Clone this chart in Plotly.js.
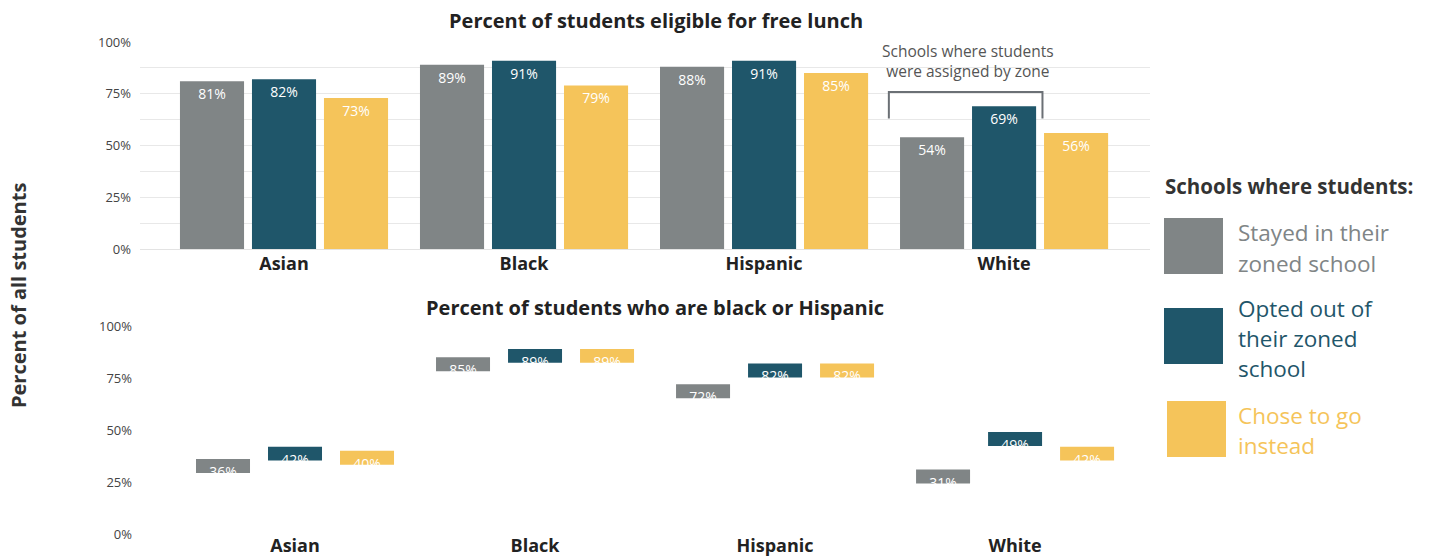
<!DOCTYPE html>
<html>
<head>
<meta charset="utf-8">
<script src="https://cdn.plot.ly/plotly-3.0.1.min.js"></script>
<style>html,body{margin:0;padding:0;background:#fff;}#chart{width:1435px;height:557px;}</style>
</head>
<body>
<div id="chart"></div>
<script>
// ---- data ----
const categories = ['Asian', 'Black', 'Hispanic', 'White'];
const seriesNames = ['Stayed in their zoned school', 'Opted out of their zoned school', 'Chose to go instead'];
const legendLines = [['Stayed in their', 'zoned school'], ['Opted out of', 'their zoned', 'school'], ['Chose to go', 'instead']];
const lunchStayed = [81, 89, 88, 54];
const lunchOpted = [82, 91, 91, 69];
const lunchChose = [73, 79, 85, 56];
const minorityStayed = [36, 85, 72, 31];
const minorityOpted = [42, 89, 82, 49];
const minorityChose = [40, 89, 82, 42];
const yTickVals = [0, 25, 50, 75, 100];
const yTickText = ['0%', '25%', '50%', '75%', '100%'];
const topTitle = 'Percent of students eligible for free lunch';
const bottomTitle = 'Percent of students who are black or Hispanic';
const yAxisTitle = 'Percent of all students';
const zoneNote = 'Schools where students<br>were assigned by zone';
const legendTitle = 'Schools where students:';

// ---- style ----
const colors = ['#808586', '#1f566a', '#f5c45a'];
const FONT = '"Open Sans", Lato, sans-serif';
const W = 1435, H = 557;
const px = x => x / W;
const py = y => 1 - y / H;
const offsetsTop = [-0.4335, -0.1335, 0.1665];
const widthTop = 0.267;
const offsetsBot = [-0.4125, -0.1125, 0.1875];
const widthBot = 0.225;
const boxH = 6.7; // visible height of the lower-panel boxes, in axis units

const lunch = [lunchStayed, lunchOpted, lunchChose];
const minority = [minorityStayed, minorityOpted, minorityChose];

const traces = [];
lunch.forEach((vals, i) => {
  traces.push({
    type: 'bar', name: seriesNames[i], x: categories, y: vals,
    xaxis: 'x', yaxis: 'y',
    width: widthTop, offset: offsetsTop[i],
    marker: {color: colors[i]},
    text: vals.map(v => v + '%'), textposition: 'inside', insidetextanchor: 'end',
    constraintext: 'none',
    textfont: {color: '#ffffff', size: 14, family: FONT},
    showlegend: false, hoverinfo: 'x+y'
  });
});
minority.forEach((vals, i) => {
  traces.push({
    type: 'bar', name: seriesNames[i], x: categories,
    y: vals.map(() => boxH), base: vals.map(v => v - boxH),
    xaxis: 'x2', yaxis: 'y2',
    width: widthBot, offset: offsetsBot[i],
    marker: {color: colors[i]},
    text: vals.map(v => v + '%'), textposition: 'inside', insidetextanchor: 'end',
    constraintext: 'none',
    textfont: {color: '#ffffff', size: 14, family: FONT},
    showlegend: false, hoverinfo: 'x+text'
  });
});

const tickFont = {family: FONT, size: 13, color: '#444'};
const catFont = {family: FONT, size: 18, color: '#222', weight: 'bold'};

function ann(text, x, y, font, extra) {
  return Object.assign({text: text, x: px(x), y: py(y), xref: 'paper', yref: 'paper',
    showarrow: false, xanchor: 'center', yanchor: 'middle', font: font}, extra || {});
}

const annotations = [
  ann(topTitle, 656, 20, {family: FONT, size: 20, color: '#222', weight: 'bold'}),
  ann(bottomTitle, 655, 307, {family: FONT, size: 20, color: '#222', weight: 'bold'}),
  ann(yAxisTitle, 18, 296, {family: FONT, size: 20, color: '#333', weight: 'bold'}, {textangle: -90}),
  ann(zoneNote, 968, 61, {family: FONT, size: 15.5, color: '#555'}),
  ann(legendTitle, 1163, 186, {family: FONT, size: 20.5, color: '#333', weight: 'bold'}, {xanchor: 'left'})
];
const legendBoxes = [[1164, 218], [1164, 308], [1167, 401]];
const legendFirstLineY = [233, 308, 415];
const shapes = [];
legendLines.forEach((lines, i) => {
  const [bx, by] = legendBoxes[i];
  shapes.push({type: 'rect', xref: 'paper', yref: 'paper',
    x0: px(bx), x1: px(bx + 59), y0: py(by), y1: py(by + 56),
    fillcolor: colors[i], line: {width: 0}});
  lines.forEach((line, j) => {
    annotations.push(ann(line, 1236, legendFirstLineY[i] + j * 30.3,
      {family: FONT, size: 22.5, color: colors[i]}, {xanchor: 'left'}));
  });
});
// bracket over the White group
shapes.push({type: 'path', xref: 'x', yref: 'y',
  path: 'M 2.52 63 L 2.52 75.8 L 3.16 75.8 L 3.16 63',
  line: {color: '#6b7075', width: 2}});

const layout = {
  width: W, height: H,
  margin: {l: 0, r: 0, t: 0, b: 0},
  paper_bgcolor: '#fff', plot_bgcolor: '#fff',
  barmode: 'overlay',
  font: {family: FONT},
  xaxis: {domain: [px(140), px(1150)], range: [-0.6, 3.608], type: 'category',
    showgrid: false, zeroline: false, showline: false, ticks: '',
    tickfont: catFont, anchor: 'y', ticklabelstandoff: 2},
  yaxis: {domain: [py(249), py(42)], range: [0, 100], tickvals: yTickVals, ticktext: yTickText,
    showgrid: true, gridcolor: '#e8e8e8', gridwidth: 1,
    minor: {dtick: 12.5, showgrid: true, gridcolor: '#e8e8e8', gridwidth: 1},
    zeroline: true, zerolinecolor: '#e3e3e3', zerolinewidth: 1,
    showline: false, ticks: '', tickfont: tickFont, anchor: 'x', ticklabelstandoff: 8},
  xaxis2: {domain: [px(151), px(1161)], range: [-0.6, 3.608], type: 'category',
    showgrid: false, zeroline: false, showline: false, ticks: '',
    tickfont: catFont, anchor: 'y2', ticklabelstandoff: -1},
  yaxis2: {domain: [py(534), py(326)], range: [0, 100], tickvals: yTickVals, ticktext: yTickText,
    showgrid: false, zeroline: false, showline: false, ticks: '', tickfont: tickFont,
    anchor: 'x2', ticklabelstandoff: 18},
  annotations: annotations,
  shapes: shapes
};

Plotly.newPlot('chart', traces, layout, {displayModeBar: false, staticPlot: true});
</script>
</body>
</html>
